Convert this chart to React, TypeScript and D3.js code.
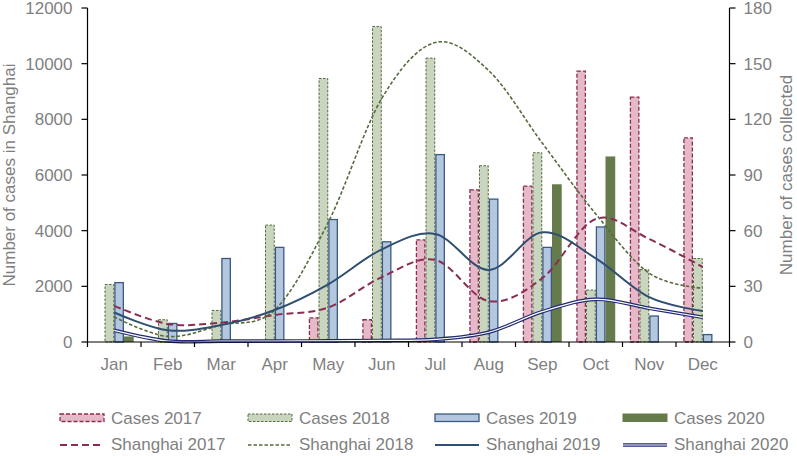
import React from "react";
import * as d3 from "d3";

const months = ["Jan", "Feb", "Mar", "Apr", "May", "Jun", "Jul", "Aug", "Sep", "Oct", "Nov", "Dec"];
const years = ["2017", "2018", "2019", "2020"];

// Cases collected (right axis)
const cases2017 = [0, 0, 0, 0, 13, 12, 55, 82, 84, 146, 132, 110];
const cases2018 = [31, 12, 17, 63, 142, 170, 153, 95, 102, 28, 39, 45];
const cases2019 = [32, 10, 45, 51, 66, 54, 101, 77, 51, 62, 14, 4];
const cases2020 = [3, 0, 0, 0, 0, 0, 0, 0, 85, 100, 0, 0];

// Number of cases in Shanghai (left axis)
const shanghai2017 = [1300, 650, 695, 970, 1240, 2330, 2950, 1470, 2290, 4420, 3700, 2690];
const shanghai2018 = [900, 200, 610, 1150, 4300, 8750, 10760, 9750, 7150, 4600, 2470, 1930];
const shanghai2019 = [1060, 420, 611, 1150, 2073, 3330, 3880, 2590, 3940, 3006, 1610, 1114];
const shanghai2020 = [420, 35, 30, 35, 40, 55, 95, 350, 1090, 1533, 1210, 887];

const leftTicks = [0, 2000, 4000, 6000, 8000, 10000, 12000];
const rightTicks = [0, 30, 60, 90, 120, 150, 180];

const W = 797;
const H = 456;
const plotL = 87.5;
const plotR = 729.5;
const plotT = 8;
const plotB = 342;
const FONT = "'Liberation Sans', Arial, sans-serif";
const GRAY = "#7f7f7f";

const barStyles = [
  { fill: "#e6b9c9", stroke: "#8b2d52", dash: "4 2", sw: 1.3 },
  { fill: "#c9d5be", stroke: "#566b3c", dash: "2.5 1.5", sw: 1 },
  { fill: "#b4c7e0", stroke: "#3b5a80", dash: "", sw: 1.3 },
  { fill: "#657b4b", stroke: "none", dash: "", sw: 0 },
];

export default function App() {
  const x = d3.scaleBand<string>().domain(months).range([plotL, plotR]).padding(0);
  const bw = x.bandwidth();
  const pad = bw * 0.136;
  const x1 = d3.scaleBand<string>().domain(years).range([pad, bw - pad]).padding(0);
  const yL = d3.scaleLinear().domain([0, 12000]).range([plotB, plotT]);
  const yR = d3.scaleLinear().domain([0, 180]).range([plotB, plotT]);

  const caseSeries = [cases2017, cases2018, cases2019, cases2020];
  const cx = (m: string) => (x(m) as number) + bw / 2;

  const line = d3
    .line<number>()
    .x((_, i) => cx(months[i]))
    .y((v) => yL(v))
    .curve(d3.curveCardinal.tension(0));

  const boundaries = months.map((m) => x(m) as number).concat([plotR]);

  const legendCols = [60, 248, 435, 623];
  const legendCases = ["Cases 2017", "Cases 2018", "Cases 2019", "Cases 2020"];
  const legendLines = ["Shanghai 2017", "Shanghai 2018", "Shanghai 2019", "Shanghai 2020"];

  return (
    <svg width={W} height={H} style={{ position: "absolute", left: 0, top: 0, background: "#fff" }} fontFamily={FONT}>
      {/* bars */}
      {months.map((m, i) => (
        <g key={m}>
          {caseSeries.map((s, k) => {
            const v = s[i];
            if (!v) return null;
            const st = barStyles[k];
            const bx = (x(m) as number) + (x1(years[k]) as number);
            const w = x1.bandwidth();
            return (
              <rect
                key={k}
                x={bx + (st.sw ? st.sw / 2 : 0)}
                y={yR(v)}
                width={w - (st.sw ? st.sw : 0)}
                height={plotB - yR(v)}
                fill={st.fill}
                stroke={st.stroke}
                strokeWidth={st.sw}
                strokeDasharray={st.dash || undefined}
              />
            );
          })}
        </g>
      ))}

      {/* lines */}
      <path d={line(shanghai2017) || ""} fill="none" stroke="#8b2d52" strokeWidth={2} strokeDasharray="7 4" />
      <path d={line(shanghai2018) || ""} fill="none" stroke="#566b3c" strokeWidth={1.6} strokeDasharray="3.5 2" />
      <path d={line(shanghai2019) || ""} fill="none" stroke="#2f4f70" strokeWidth={2} />
      <path d={line(shanghai2020) || ""} fill="none" stroke="#1f2a70" strokeWidth={3.6} />
      <path d={line(shanghai2020) || ""} fill="none" stroke="#ffffff" strokeWidth={1.2} />

      {/* axes */}
      <line x1={plotL} x2={plotL} y1={plotT} y2={plotB} stroke="#000" strokeWidth={1.2} />
      <line x1={plotR} x2={plotR} y1={plotT} y2={plotB} stroke="#000" strokeWidth={1.2} />
      <line x1={plotL} x2={plotR} y1={plotB} y2={plotB} stroke="#000" strokeWidth={1.2} />

      {leftTicks.map((t) => (
        <g key={"l" + t}>
          <line x1={plotL - 6} x2={plotL} y1={yL(t)} y2={yL(t)} stroke="#000" strokeWidth={1.2} />
          <text x={plotL - 15} y={yL(t)} dy="0.35em" textAnchor="end" fontSize={17} fill={GRAY}>
            {t}
          </text>
        </g>
      ))}
      {rightTicks.map((t) => (
        <g key={"r" + t}>
          <line x1={plotR} x2={plotR + 6} y1={yR(t)} y2={yR(t)} stroke="#000" strokeWidth={1.2} />
          <text x={plotR + 14} y={yR(t)} dy="0.35em" textAnchor="start" fontSize={17} fill={GRAY}>
            {t}
          </text>
        </g>
      ))}
      {boundaries.map((b, i) => (
        <line key={"b" + i} x1={b} x2={b} y1={plotB} y2={plotB + 5} stroke="#000" strokeWidth={1.2} />
      ))}
      {months.map((m) => (
        <text key={"m" + m} x={cx(m)} y={370} textAnchor="middle" fontSize={17} fill={GRAY}>
          {m}
        </text>
      ))}

      <text transform={`translate(15, ${(plotT + plotB) / 2}) rotate(-90)`} textAnchor="middle" fontSize={17} fill={GRAY}>
        Number of cases in Shanghai
      </text>
      <text transform={`translate(792, ${(plotT + plotB) / 2}) rotate(-90)`} textAnchor="middle" fontSize={17} fill={GRAY}>
        Number of cases collected
      </text>

      {/* legend */}
      {legendCases.map((lab, k) => {
        const st = barStyles[k];
        const lx = legendCols[k];
        return (
          <g key={lab}>
            <rect
              x={lx}
              y={414}
              width={44}
              height={7.5}
              fill={st.fill}
              stroke={st.stroke === "none" ? st.fill : st.stroke}
              strokeWidth={st.sw || 1}
              strokeDasharray={st.dash || undefined}
            />
            <text x={lx + 51} y={423.5} fontSize={17} fill={GRAY}>
              {lab}
            </text>
          </g>
        );
      })}
      {legendLines.map((lab, k) => {
        const lx = legendCols[k];
        const ly = 445;
        return (
          <g key={lab}>
            {k === 0 && <line x1={lx} x2={lx + 44} y1={ly} y2={ly} stroke="#8b2d52" strokeWidth={2} strokeDasharray="7 4" />}
            {k === 1 && <line x1={lx} x2={lx + 44} y1={ly} y2={ly} stroke="#566b3c" strokeWidth={1.6} strokeDasharray="3.5 2" />}
            {k === 2 && <line x1={lx} x2={lx + 44} y1={ly} y2={ly} stroke="#2f4f70" strokeWidth={2} />}
            {k === 3 && (
              <>
                <line x1={lx} x2={lx + 44} y1={ly} y2={ly} stroke="#1f2a70" strokeWidth={3.6} />
                <line x1={lx} x2={lx + 44} y1={ly} y2={ly} stroke="#fff" strokeWidth={1.2} />
              </>
            )}
            <text x={lx + 51} y={450} fontSize={17} fill={GRAY}>
              {lab}
            </text>
          </g>
        );
      })}
    </svg>
  );
}
